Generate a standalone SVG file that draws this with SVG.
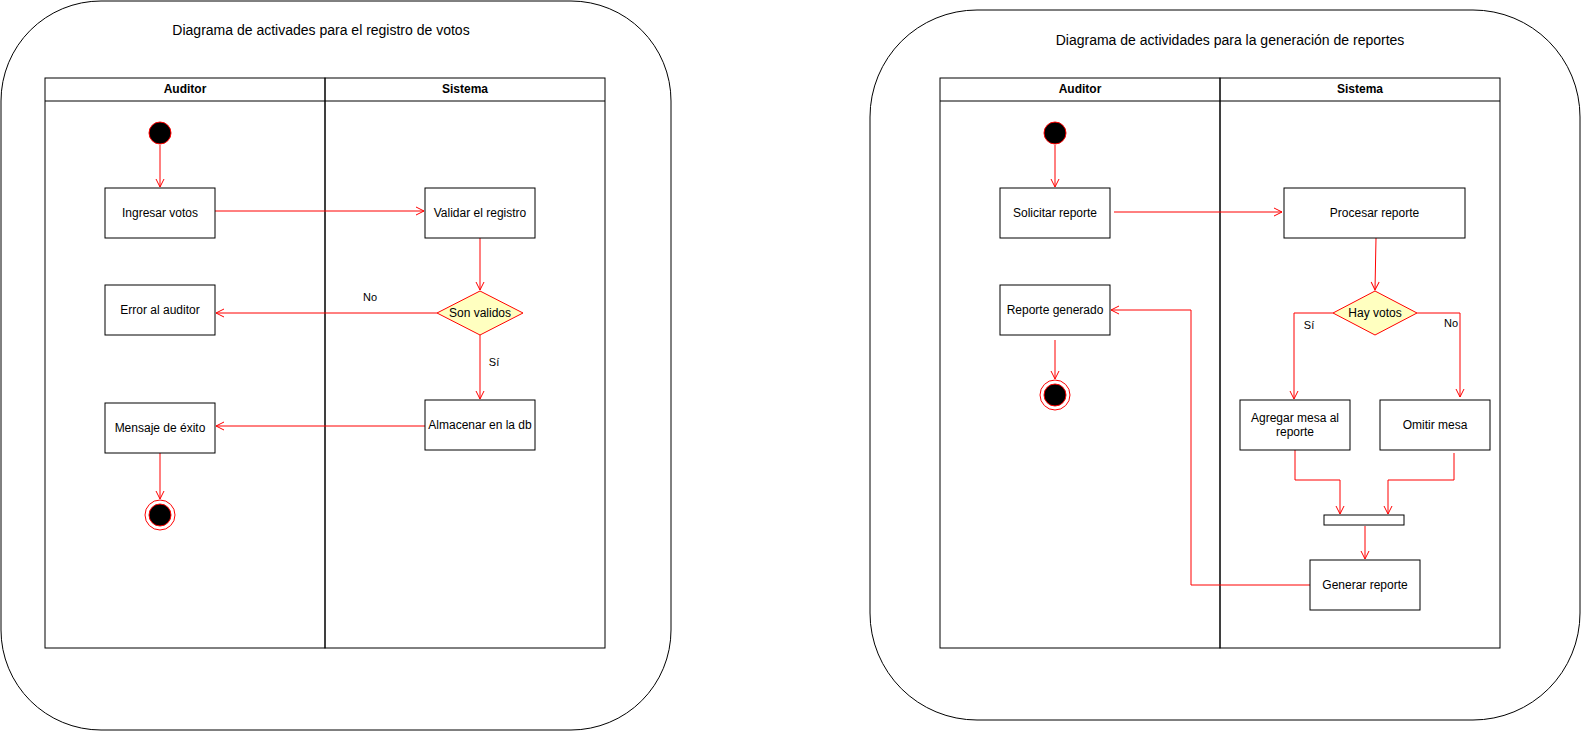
<svg xmlns="http://www.w3.org/2000/svg" width="1581" height="731" viewBox="0 0 1581 731">
<style>
.frame{fill:#fff;stroke:#000;stroke-width:1}
.lane{fill:none;stroke:#000;stroke-width:1}
.box{fill:#fff;stroke:#000;stroke-width:1}
.dec{fill:#ffffc0;stroke:#ff0000;stroke-width:1}
.t{font-family:"Liberation Sans",Arial,sans-serif;font-size:12px;fill:#000;text-anchor:middle;dominant-baseline:central}
.title{font-size:14px}
.hdr{font-weight:bold}
.lbl{font-size:11px}
.e{fill:none;stroke:#ff0000;stroke-width:1;marker-end:url(#arr)}
.start{fill:#000;stroke:#ff0000;stroke-width:1}
.endo{fill:#fff;stroke:#ff0000;stroke-width:1}
</style>
<defs>
<marker id="arr" markerUnits="userSpaceOnUse" markerWidth="12" markerHeight="12" viewBox="-9 -6 12 12" refX="0" refY="0" orient="auto" overflow="visible">
<path d="M-8,-4 L0,0 L-8,4" fill="none" stroke="#ff0000" stroke-width="1"/>
</marker>
</defs>
<rect width="1581" height="731" fill="#fff"/>

<g id="frame-left">
<rect class="frame" x="1" y="1" width="670" height="729" rx="100" ry="100"/>
<text class="t title" x="321" y="30">Diagrama de activades para el registro de votos</text>
</g>
<g id="lanes-left">
<rect class="lane" x="45" y="78" width="280" height="570"/>
<rect class="lane" x="325" y="78" width="280" height="570"/>
<line class="lane" x1="45" y1="101" x2="605" y2="101"/>
<text class="t hdr" x="185" y="89">Auditor</text>
<text class="t hdr" x="465" y="89">Sistema</text>
</g>

<g id="frame-right">
<rect class="frame" x="870" y="10" width="710" height="710" rx="107" ry="107"/>
<text class="t title" x="1230" y="40">Diagrama de actividades para la generación de reportes</text>
</g>
<g id="lanes-right">
<rect class="lane" x="940" y="78" width="280" height="570"/>
<rect class="lane" x="1220" y="78" width="280" height="570"/>
<line class="lane" x1="940" y1="101" x2="1500" y2="101"/>
<text class="t hdr" x="1080" y="89">Auditor</text>
<text class="t hdr" x="1360" y="89">Sistema</text>
</g>

<g id="connectors">
<!-- left -->
<path class="e" d="M160,145 L160,187"/>
<path class="e" d="M215,211 L424,211"/>
<path class="e" d="M480,238 L480,290"/>
<path class="e" d="M437,313 L216,313"/>
<text class="t lbl" x="370" y="297">No</text>
<path class="e" d="M480,335 L480,399"/>
<text class="t lbl" x="494" y="362">Sí</text>
<path class="e" d="M425,426 L216,426"/>
<path class="e" d="M160,453 L160,499"/>
<!-- right -->
<path class="e" d="M1055,145 L1055,187"/>
<path class="e" d="M1114,212 L1282,212"/>
<path class="e" d="M1376,238 L1375,290"/>
<path class="e" d="M1333,313 L1294,313 L1294,399"/>
<text class="t lbl" x="1309" y="325">Sí</text>
<path class="e" d="M1417,313 L1460,313 L1460,397"/>
<text class="t lbl" x="1451" y="323">No</text>
<path class="e" d="M1295,450 L1295,480 L1340,480 L1340,514"/>
<path class="e" d="M1454,453 L1454,480 L1388,480 L1388,514"/>
<path class="e" d="M1365,526 L1365,559"/>
<path class="e" d="M1310,585 L1191,585 L1191,310 L1111,310"/>
<path class="e" d="M1055,340 L1055,379"/>
</g>

<g id="start-left"><circle class="start" cx="160" cy="133" r="11"/></g>
<g id="ingresar"><rect class="box" x="105" y="188" width="110" height="50"/><text class="t" x="160" y="213">Ingresar votos</text></g>
<g id="validar"><rect class="box" x="425" y="188" width="110" height="50"/><text class="t" x="480" y="213">Validar el registro</text></g>
<g id="son-validos"><polygon class="dec" points="480,291 523,313 480,335 437,313"/><text class="t" x="480" y="313">Son validos</text></g>
<g id="error"><rect class="box" x="105" y="285" width="110" height="50"/><text class="t" x="160" y="310">Error al auditor</text></g>
<g id="almacenar"><rect class="box" x="425" y="400" width="110" height="50"/><text class="t" x="480" y="425">Almacenar en la db</text></g>
<g id="mensaje"><rect class="box" x="105" y="403" width="110" height="50"/><text class="t" x="160" y="428">Mensaje de éxito</text></g>
<g id="end-left"><circle class="endo" cx="160" cy="515" r="15"/><circle class="start" cx="160" cy="515" r="11"/></g>

<g id="start-right"><circle class="start" cx="1055" cy="133" r="11"/></g>
<g id="solicitar"><rect class="box" x="1000" y="188" width="110" height="50"/><text class="t" x="1055" y="213">Solicitar reporte</text></g>
<g id="procesar"><rect class="box" x="1284" y="188" width="181" height="50"/><text class="t" x="1374.5" y="213">Procesar reporte</text></g>
<g id="hay-votos"><polygon class="dec" points="1375,291 1417,313 1375,335 1333,313"/><text class="t" x="1375" y="313">Hay votos</text></g>
<g id="agregar"><rect class="box" x="1240" y="400" width="110" height="50"/><text class="t" x="1295" y="418">Agregar mesa al</text><text class="t" x="1295" y="432">reporte</text></g>
<g id="omitir"><rect class="box" x="1380" y="400" width="110" height="50"/><text class="t" x="1435" y="425">Omitir mesa</text></g>
<g id="join"><rect class="box" x="1324" y="515" width="80" height="10"/></g>
<g id="generar"><rect class="box" x="1310" y="560" width="110" height="50"/><text class="t" x="1365" y="585">Generar reporte</text></g>
<g id="reporte"><rect class="box" x="1000" y="285" width="110" height="50"/><text class="t" x="1055" y="310">Reporte generado</text></g>
<g id="end-right"><circle class="endo" cx="1055" cy="395" r="15"/><circle class="start" cx="1055" cy="395" r="11"/></g>
</svg>
